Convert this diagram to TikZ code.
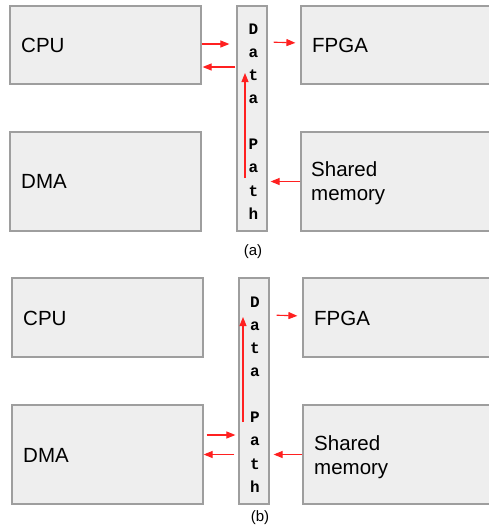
\documentclass[tikz,border=0pt]{standalone}
\usepackage{fontspec}
\setmainfont{Liberation Sans}
\newfontfamily\dpfont{Liberation Mono}
\usetikzlibrary{arrows.meta}
\definecolor{boxfill}{HTML}{EEEEEE}
\definecolor{boxline}{HTML}{9E9E9E}
\definecolor{arrred}{HTML}{FF2020}
\begin{document}
\begin{tikzpicture}[x=1pt,y=-1pt,
  blk/.style={draw=boxline,fill=boxfill,line width=1.2pt,inner sep=0pt,rectangle},
  lbl/.style={anchor=base west,font=\fontsize{20.5}{24}\selectfont,inner sep=0pt,align=left},
  letter/.style={anchor=base,font=\dpfont\bfseries\fontsize{16}{18}\selectfont,inner sep=0pt},
  captxt/.style={font=\fontsize{15}{18}\selectfont,inner sep=0pt},
  arr/.style={draw=arrred,line width=1.1pt,-{Triangle[length=9pt,width=7pt]}}]
\useasboundingbox (0,0) rectangle (489,528);
% ---------- (a) ----------
\node[blk,minimum width=191pt,minimum height=78pt] (cpuA) at (105.5,45) {};
\node[blk,minimum width=191pt,minimum height=99pt] (dmaA) at (105.5,181.5) {};
\node[blk,minimum width=30pt,minimum height=225pt] (dpA) at (252,118.5) {};
\node[blk,minimum width=194pt,minimum height=78pt] (fpgaA) at (398,45) {};
\node[blk,minimum width=194pt,minimum height=99pt] (smemA) at (398,181.5) {};
\node[lbl] (cpuAt) at (21,52) {CPU};
\node[lbl] (dmaAt) at (21,188.3) {DMA};
\node[lbl] (fpgaAt) at (312,52) {FPGA};
\node[lbl] (smemAt) at (311,200.5) {Shared\\memory};
\foreach \i/\c in {1/D,2/a,3/t,4/a,6/P,7/a,8/t,9/h}
  \node[letter] (lA\i) at (253.3,{34.3+(\i-1)*23.1}) {\c};
\node[captxt] (capA) at (253,252) {(a)};
\coordinate (upAs) at (245,178);
\coordinate (upAe) at (245,73);
\draw[arr,shorten >=7pt] ([yshift=1pt]cpuA.east) -- ([yshift=1pt]cpuA.east -| dpA.west);
\draw[arr,shorten <=1pt,shorten >=1pt] ([yshift=-22pt]cpuA.east -| dpA.west) -- ([yshift=-22pt]cpuA.east);
\draw[arr,shorten <=6pt,shorten >=5pt] ([yshift=3pt]fpgaA.west -| dpA.east) -- ([yshift=2pt]fpgaA.west);
\draw[arr] (upAs) -- (upAe);
\draw[arr,shorten >=3pt] (smemA.west) -- (smemA.west -| dpA.east);
% ---------- (b) ----------
\node[blk,minimum width=191pt,minimum height=79pt] (cpuB) at (107.5,317.5) {};
\node[blk,minimum width=191pt,minimum height=99pt] (dmaB) at (107.5,454.5) {};
\node[blk,minimum width=30pt,minimum height=226pt] (dpB) at (254,391) {};
\node[blk,minimum width=194pt,minimum height=79pt] (fpgaB) at (400,317.5) {};
\node[blk,minimum width=194pt,minimum height=99pt] (smemB) at (400,454.5) {};
\node[lbl] (cpuBt) at (23,325.7) {CPU};
\node[lbl] (dmaBt) at (23,462.3) {DMA};
\node[lbl] (fpgaBt) at (314,325.7) {FPGA};
\node[lbl] (smemBt) at (314,474) {Shared\\memory};
\foreach \i/\c in {1/D,2/a,3/t,4/a,6/P,7/a,8/t,9/h}
  \node[letter] (lB\i) at (255,{307.3+(\i-1)*23.1}) {\c};
\node[captxt] (capB) at (260,518) {(b)};
\coordinate (upBs) at (243,422);
\coordinate (upBe) at (243,317);
\draw[arr] (upBs) -- (upBe);
\draw[arr,shorten <=7pt,shorten >=5pt] ([yshift=2.5pt]fpgaB.west -| dpB.east) -- ([yshift=1.5pt]fpgaB.west);
\draw[arr,shorten <=3pt,shorten >=3pt] ([yshift=19.5pt]dmaB.east) -- ([yshift=19.5pt]dmaB.east -| dpB.west);
\draw[arr,shorten <=4pt] (dmaB.east -| dpB.west) -- (dmaB.east);
\draw[arr,shorten >=4pt] (smemB.west) -- (smemB.west -| dpB.east);
\end{tikzpicture}
\end{document}
